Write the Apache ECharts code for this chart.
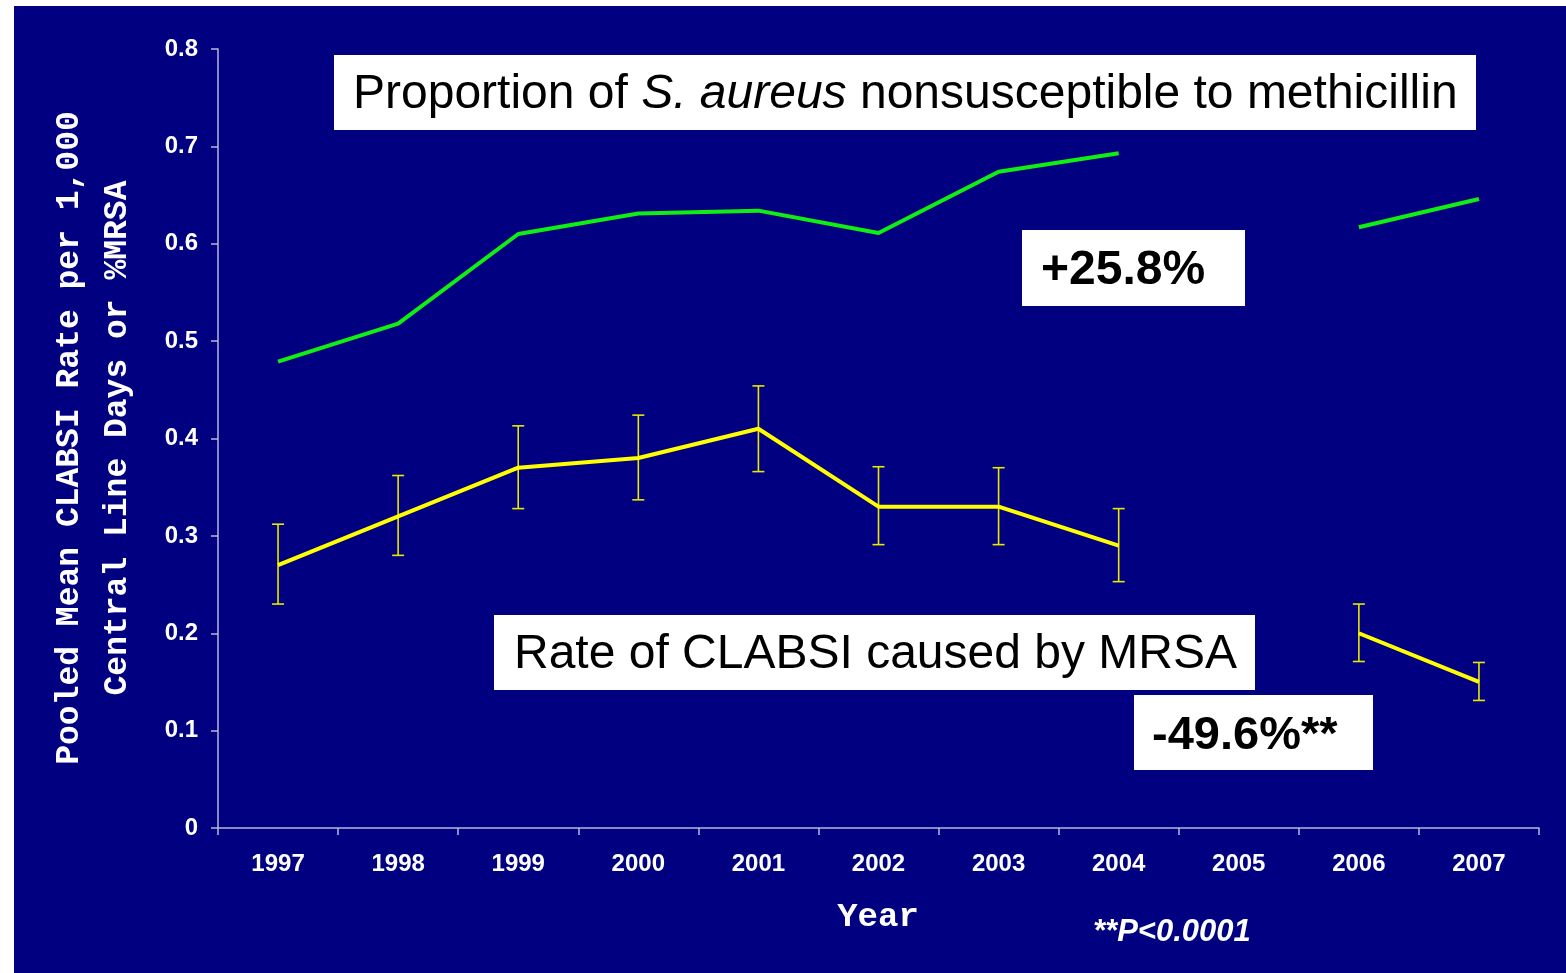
<!DOCTYPE html>
<html>
<head>
<meta charset="utf-8">
<script src="https://cdn.jsdelivr.net/npm/echarts@6/dist/echarts.min.js"></script>
<style>
html,body{margin:0;padding:0;background:#ffffff;}
#wrap{position:absolute;left:14px;top:6px;width:1552px;height:967px;background:#000080;}
#chart{width:1552px;height:967px;}
</style>
</head>
<body>
<div id="wrap"><div id="chart"></div></div>
<script>
const years = ['1997','1998','1999','2000','2001','2002','2003','2004','2005','2006','2007'];
const pctMRSA = [0.479, 0.518, 0.610, 0.631, 0.634, 0.611, 0.674, 0.693, null, 0.617, 0.646];
const clabsiRate = [0.27, 0.32, 0.37, 0.38, 0.41, 0.33, 0.33, 0.29, null, 0.20, 0.15];
const clabsiLow = [0.230, 0.280, 0.328, 0.337, 0.366, 0.291, 0.291, 0.253, null, 0.171, 0.131];
const clabsiHigh = [0.312, 0.362, 0.413, 0.424, 0.454, 0.371, 0.370, 0.328, null, 0.230, 0.170];
const yTicks = [0, 0.1, 0.2, 0.3, 0.4, 0.5, 0.6, 0.7, 0.8];

const errData = years.map((y, i) => clabsiLow[i] == null ? null : [i, clabsiLow[i], clabsiHigh[i]]).filter(d => d);

const chart = echarts.init(document.getElementById('chart'), null, {renderer: 'canvas'});
const axisColor = '#b8b8d8';
const OX = 14, OY = 6; // offset of the navy panel

chart.setOption({
  backgroundColor: '#000080',
  animation: false,
  grid: {left: 218 - OX, right: 27, top: 49 - OY, bottom: 973 - 828, containLabel: false},
  xAxis: {
    type: 'category',
    data: years,
    boundaryGap: true,
    axisLine: {lineStyle: {color: axisColor, width: 1.5}},
    axisTick: {show: true, length: 7, inside: false, alignWithLabel: false, lineStyle: {color: axisColor, width: 1.5}},
    axisLabel: {color: '#ffffff', fontFamily: 'Liberation Sans, Arial, sans-serif', fontWeight: 'bold', fontSize: 24, margin: 24},
    splitLine: {show: false}
  },
  yAxis: {
    type: 'value',
    min: 0, max: 0.8, interval: 0.1,
    axisLine: {show: true, lineStyle: {color: axisColor, width: 1.5}},
    axisTick: {show: true, length: 7, lineStyle: {color: axisColor, width: 1.5}},
    axisLabel: {color: '#ffffff', fontFamily: 'Liberation Sans, Arial, sans-serif', fontWeight: 'bold', fontSize: 24, margin: 20,
      formatter: v => { const t = yTicks.find(x => Math.abs(x - v) < 1e-9); return t === 0 ? '0' : String(Math.round(v * 10) / 10); }},
    splitLine: {show: false}
  },
  series: [
    {
      name: '%MRSA', type: 'line', data: pctMRSA, symbol: 'none', connectNulls: false,
      lineStyle: {color: '#11ee11', width: 4}, z: 3
    },
    {
      name: 'CLABSI rate', type: 'line', data: clabsiRate, symbol: 'none', connectNulls: false,
      lineStyle: {color: '#ffff00', width: 4}, z: 4
    },
    {
      name: 'CI', type: 'custom', data: errData, z: 3,
      renderItem: function (params, api) {
        const x = api.value(0);
        const lo = api.coord([x, api.value(1)]);
        const hi = api.coord([x, api.value(2)]);
        const w = 6;
        const st = {stroke: '#e8e800', lineWidth: 1.6};
        return {type: 'group', children: [
          {type: 'line', shape: {x1: lo[0], y1: lo[1], x2: hi[0], y2: hi[1]}, style: st},
          {type: 'line', shape: {x1: lo[0] - w, y1: lo[1], x2: lo[0] + w, y2: lo[1]}, style: st},
          {type: 'line', shape: {x1: hi[0] - w, y1: hi[1], x2: hi[0] + w, y2: hi[1]}, style: st}
        ]};
      }
    }
  ],
  graphic: [
    // Y axis title (two lines, rotated)
    {type: 'text', x: 70 - OX, y: 438 - OY, rotation: Math.PI / 2,
      style: {text: 'Pooled Mean CLABSI Rate per 1,000', fill: '#ffffff', font: 'bold 33px "Liberation Mono", "Courier New", monospace', textAlign: 'center', textVerticalAlign: 'middle'}},
    {type: 'text', x: 118 - OX, y: 438 - OY, rotation: Math.PI / 2,
      style: {text: 'Central Line Days or %MRSA', fill: '#ffffff', font: 'bold 33px "Liberation Mono", "Courier New", monospace', textAlign: 'center', textVerticalAlign: 'middle'}},
    // X axis title
    {type: 'text', x: 878 - OX, y: 917 - OY,
      style: {text: 'Year', fill: '#ffffff', font: 'bold 34px "Liberation Mono", "Courier New", monospace', textAlign: 'center', textVerticalAlign: 'middle'}},
    // p-value note
    {type: 'text', x: 1093 - OX, y: 932 - OY,
      style: {text: '**P<0.0001', fill: '#ffffff', font: 'italic bold 31px "Liberation Sans", Arial, sans-serif', textAlign: 'left', textVerticalAlign: 'middle'}},
    // Box 1
    {type: 'rect', shape: {x: 334 - OX, y: 55 - OY, width: 1142, height: 75}, style: {fill: '#ffffff'}, z: 10},
    {type: 'text', x: 353 - OX, y: 95 - OY, z: 11,
      style: {
        text: '{a|Proportion of }{i|S. aureus}{a| nonsusceptible to methicillin}',
        textAlign: 'left', textVerticalAlign: 'middle',
        rich: {
          a: {fill: '#000000', font: '48px "Liberation Sans", Arial, sans-serif'},
          i: {fill: '#000000', font: 'italic 48px "Liberation Sans", Arial, sans-serif'}
        }
      }},
    // Box 2
    {type: 'rect', shape: {x: 1022 - OX, y: 230 - OY, width: 223, height: 76}, style: {fill: '#ffffff'}, z: 10},
    {type: 'text', x: 1041 - OX, y: 271 - OY, z: 11,
      style: {text: '+25.8%', fill: '#000000', font: 'bold 48px "Liberation Sans", Arial, sans-serif', textAlign: 'left', textVerticalAlign: 'middle'}},
    // Box 3
    {type: 'rect', shape: {x: 494 - OX, y: 615 - OY, width: 761, height: 75}, style: {fill: '#ffffff'}, z: 10},
    {type: 'text', x: 514 - OX, y: 655 - OY, z: 11,
      style: {text: 'Rate of CLABSI caused by MRSA', fill: '#000000', font: '48px "Liberation Sans", Arial, sans-serif', textAlign: 'left', textVerticalAlign: 'middle'}},
    // Box 4
    {type: 'rect', shape: {x: 1134 - OX, y: 695 - OY, width: 239, height: 75}, style: {fill: '#ffffff'}, z: 10},
    {type: 'text', x: 1152 - OX, y: 736 - OY, z: 11,
      style: {text: '-49.6%**', fill: '#000000', font: 'bold 47px "Liberation Sans", Arial, sans-serif', textAlign: 'left', textVerticalAlign: 'middle'}}
  ]
});
</script>
</body>
</html>
